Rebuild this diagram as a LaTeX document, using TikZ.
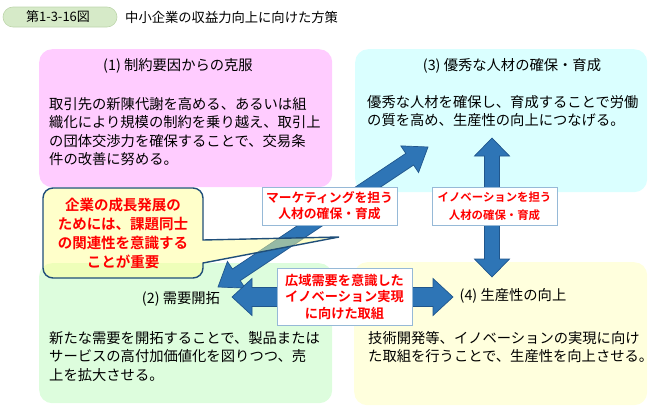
\documentclass[tikz,border=0pt]{standalone}
\usepackage{fontspec}
\setmainfont{Noto Sans CJK JP}[BoldFont={Noto Sans CJK JP Bold}]
\usetikzlibrary{calc}
\definecolor{pinkbox}{RGB}{255,204,255}
\definecolor{cyanbox}{RGB}{218,255,255}
\definecolor{greenbox}{RGB}{221,253,221}
\definecolor{yellowbox}{RGB}{255,255,221}
\definecolor{pillfill}{RGB}{214,234,200}
\definecolor{pilldraw}{RGB}{190,214,172}
\definecolor{arrowfill}{RGB}{46,117,182}
\definecolor{arrowdraw}{RGB}{32,86,140}
\definecolor{calloutfill}{RGB}{255,255,150}
\definecolor{calloutdraw}{RGB}{31,78,121}
\definecolor{lblborder}{RGB}{150,185,215}
\definecolor{redtext}{RGB}{255,0,0}
\newcommand\blockarr[5]{%
  \filldraw[barrow] (#1)
    -- ($(#1)!#5!(#2)!#4!90:(#2)$)
    -- ($(#1)!#5!(#2)!#3!90:(#2)$)
    -- ($(#2)!#5!(#1)!#3!-90:(#1)$)
    -- ($(#2)!#5!(#1)!#4!-90:(#1)$)
    -- (#2)
    -- ($(#2)!#5!(#1)!#4!90:(#1)$)
    -- ($(#2)!#5!(#1)!#3!90:(#1)$)
    -- ($(#1)!#5!(#2)!#3!-90:(#2)$)
    -- ($(#1)!#5!(#2)!#4!-90:(#2)$)
    -- cycle;}
\tikzset{
  panel/.style={rounded corners=13pt, inner sep=0pt, anchor=north west},
  heading/.style={inner sep=0pt, font=\fontsize{14.3}{18}\selectfont},
  bodytext/.style={inner sep=0pt, anchor=north west, align=left, font=\fontsize{14.3}{18.5}\selectfont},
  barrow/.style={fill=arrowfill, draw=arrowdraw, line width=0.7pt, line join=miter},
  lbl/.style={draw=lblborder, fill=white, line width=0.9pt, inner sep=0pt, align=center, text=redtext},
  calloutbox/.style={fill=calloutfill, fill opacity=0.5, draw=calloutdraw, draw opacity=1, line width=1.4pt, line join=miter},
}
\begin{document}
\begin{tikzpicture}[x=1pt,y=-1pt]
\useasboundingbox (0,0) rectangle (665,415);
% title
\node[fill=pillfill, draw=pilldraw, line width=0.6pt, rounded corners=10pt, minimum width=114pt, minimum height=20pt, inner sep=0pt] (pill) at (60,17) {};
\node[inner sep=0pt, font=\fontsize{13}{15}\selectfont] (fignum) at (58,17) {第1-3-16図};
\node[inner sep=0pt, anchor=west, font=\fontsize{13.3}{15}\selectfont] (title) at (125,17) {中小企業の収益力向上に向けた方策};
% panels
\node[panel, fill=pinkbox, minimum width=293pt, minimum height=138pt] (b1) at (39,49) {};
\node[panel, fill=cyanbox, minimum width=292pt, minimum height=143pt] (b3) at (355,49) {};
\node[panel, fill=greenbox, minimum width=293pt, minimum height=140pt] (b2) at (39,263) {};
\node[panel, fill=yellowbox, minimum width=293pt, minimum height=143pt] (b4) at (354,262) {};
% panel texts
\node[heading] (h1) at (178,66) {(1) 制約要因からの克服};
\node[bodytext] (t1) at (49,97) {取引先の新陳代謝を高める、あるいは組\\織化により規模の制約を乗り越え、取引上\\の団体交渉力を確保することで、交易条\\件の改善に努める。};
\node[heading] (h3) at (512,66) {(3) 優秀な人材の確保・育成};
\node[bodytext] (t3) at (367,95) {優秀な人材を確保し、育成することで労働\\の質を高め、生産性の向上につなげる。};
\node[heading] (h2) at (181,299) {(2) 需要開拓};
\node[bodytext] (t2) at (49,331) {新たな需要を開拓することで、製品または\\サービスの高付加価値化を図りつつ、売\\上を拡大させる。};
\node[heading] (h4) at (513,296) {(4) 生産性の向上};
\node[bodytext] (t4) at (368,331) {技術開発等、イノベーションの実現に向け\\た取組を行うことで、生産性を向上させる。};
% arrows
\coordinate (dA) at (218,287);
\coordinate (dB) at (428,147);
\blockarr{dA}{dB}{7pt}{16pt}{22pt}
\coordinate (vA) at (492,138);
\coordinate (vB) at (492,277);
\blockarr{vA}{vB}{7.5pt}{17.5pt}{18pt}
\coordinate (hA) at (232,297);
\coordinate (hB) at (453,297);
\blockarr{hA}{hB}{9.5pt}{18.5pt}{20pt}
% callout
\coordinate (ctip) at (339,237);
\path[calloutbox] (53,188) -- (193,188) arc (-90:0:10) -- (203,240) -- (ctip) -- (203,263) -- (203,268) arc (0:90:10) -- (53,278) arc (90:180:10) -- (43,198) arc (180:270:10) -- cycle;
\node[inner sep=0pt, align=center, text=redtext, font=\fontsize{14.5}{19}\selectfont\bfseries] (ctext) at (123,233.5) {企業の成長発展の\\ためには、課題同士\\の関連性を意識する\\ことが重要};
% labels
\node[lbl, minimum width=135pt, minimum height=38pt, font=\fontsize{12.8}{16}\selectfont\bfseries] (lm) at (329.5,206) {マーケティングを担う\\人材の確保・育成};
\node[lbl, minimum width=125pt, minimum height=38pt, font=\fontsize{11.4}{18}\selectfont\bfseries] (li) at (494.5,206) {イノベーションを担う\\人材の確保・育成};
\node[lbl, minimum width=135pt, minimum height=57pt, font=\fontsize{13.2}{16.5}\selectfont\bfseries] (lw) at (344.5,296.5) {広域需要を意識した\\イノベーション実現\\に向けた取組};
\end{tikzpicture}
\end{document}
